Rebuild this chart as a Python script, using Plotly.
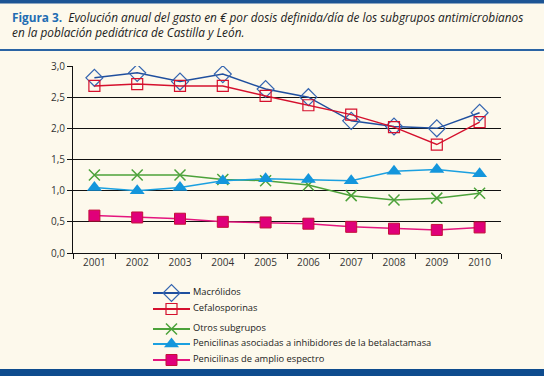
import plotly.graph_objects as go

years = ["2001", "2002", "2003", "2004", "2005", "2006", "2007", "2008", "2009", "2010"]
macrolidos = [2.81, 2.89, 2.75, 2.87, 2.63, 2.50, 2.12, 2.03, 2.00, 2.25]
cefalosporinas = [2.68, 2.71, 2.68, 2.68, 2.52, 2.37, 2.22, 2.02, 1.74, 2.10]
otros = [1.25, 1.25, 1.25, 1.18, 1.16, 1.09, 0.92, 0.85, 0.88, 0.96]
pen_asoc = [1.05, 1.00, 1.05, 1.16, 1.19, 1.18, 1.16, 1.31, 1.34, 1.27]
pen_amplio = [0.60, 0.57, 0.55, 0.50, 0.49, 0.47, 0.42, 0.39, 0.37, 0.41]
names = ["Macrólidos", "Cefalosporinas", "Otros subgrupos",
         "Penicilinas asociadas a inhibidores de la betalactamasa",
         "Penicilinas de amplio espectro"]
y_ticks = [0, 0.5, 1.0, 1.5, 2.0, 2.5, 3.0]

styles = [
    ("#1f4f9e", dict(symbol="diamond-open", size=13, color="#3565b0", line=dict(width=1.2))),
    ("#d5102d", dict(symbol="square-open", size=11, color="#d5102d", line=dict(width=1.2))),
    ("#4ca23a", dict(symbol="x-thin-open", size=11, color="#4ca23a", line=dict(width=1.5, color="#4ca23a"))),
    ("#1ba0e0", dict(symbol="triangle-up", size=13, color="#1496dc", line=dict(width=0))),
    ("#e4157e", dict(symbol="square", size=11, color="#e0007a", line=dict(width=1, color="#c4103a"))),
]
values = [macrolidos, cefalosporinas, otros, pen_asoc, pen_amplio]

# Layout in pixels
W, H = 544, 376
L, R, T, B = 73, 43, 66, 10          # plotting region margins
AREA_H = H - T - B                    # 300
MAIN_BOTTOM = 253                     # pixel y of main x axis
main_dom = [(H - B - MAIN_BOTTOM) / AREA_H, 1.0]
leg_top_px, leg_bot_px = 282, H - B
leg_dom = [0.0, (H - B - leg_top_px) / AREA_H]
leg_rows = [293, 309, 329, 344, 360]  # legend row centres (px)
leg_x0, leg_x1, leg_txt = 153, 190, 193

fig = go.Figure()
for name, vals, (col, mk) in zip(names, values, styles):
    fig.add_trace(go.Scatter(
        x=years, y=vals, name=name, mode="lines+markers",
        line=dict(color=col, width=1.5), marker=mk, showlegend=False,
    ))

# custom legend drawn on an auxiliary pixel-scaled axis pair
for name, row, (col, mk) in zip(names, leg_rows, styles):
    fig.add_trace(go.Scatter(
        x=[leg_x0, leg_x1], y=[row, row], mode="lines", line=dict(color=col, width=2),
        xaxis="x2", yaxis="y2", showlegend=False, hoverinfo="skip",
    ))
    fig.add_trace(go.Scatter(
        x=[(leg_x0 + leg_x1) / 2], y=[row], mode="markers", marker=mk,
        xaxis="x2", yaxis="y2", showlegend=False, hoverinfo="skip",
    ))
    fig.add_trace(go.Scatter(
        x=[leg_txt], y=[row], mode="text", text=[name], textposition="middle right",
        textfont=dict(size=9.3, color="#222222"),
        xaxis="x2", yaxis="y2", showlegend=False, hoverinfo="skip",
    ))

def px_x(x):
    return (x - L) / (W - L - R)
def px_y(y):
    return (H - B - y) / AREA_H

fig.update_layout(
    width=W, height=H,
    paper_bgcolor="#fdf9ec", plot_bgcolor="#fdf9ec",
    margin=dict(l=L, r=R, t=T, b=B, autoexpand=False),
    separators=",.",
    font=dict(family="Open Sans, Noto Sans, sans-serif", size=10, color="#333333"),
    showlegend=False,
    xaxis=dict(
        type="category", range=[-0.5, 9.5], showgrid=False, anchor="y",
        showline=True, linecolor="#111111", linewidth=1,
        ticks="outside", tickson="boundaries", ticklen=5, tickcolor="#111111",
        tickfont=dict(size=10, color="#333333"), fixedrange=True,
    ),
    yaxis=dict(
        domain=main_dom, range=[0, 3.0], tickvals=y_ticks, tickformat=".1f",
        showgrid=True, gridcolor="#111111", gridwidth=1,
        showline=True, linecolor="#111111", linewidth=1,
        ticks="outside", ticklen=5, tickcolor="#111111", zeroline=False,
        tickfont=dict(size=10, color="#333333"), fixedrange=True,
    ),
    xaxis2=dict(range=[L, W - R], visible=False, anchor="y2", fixedrange=True),
    yaxis2=dict(domain=leg_dom, range=[leg_bot_px, leg_top_px], visible=False,
                anchor="x2", fixedrange=True),
    shapes=[
        dict(type="rect", xref="paper", yref="paper", x0=px_x(0), x1=px_x(W),
             y0=px_y(0), y1=px_y(3.5), line=dict(width=0), fillcolor="#1d5595", layer="above"),
        dict(type="line", xref="paper", yref="paper", x0=px_x(0), x1=px_x(W),
             y0=px_y(50), y1=px_y(50), line=dict(width=2, color="#2a64a4")),
        dict(type="rect", xref="paper", yref="paper", x0=px_x(0), x1=px_x(W),
             y0=px_y(376), y1=px_y(369), line=dict(width=0), fillcolor="#0e4c8e", layer="above"),
    ],
    annotations=[
        dict(xref="paper", yref="paper", x=px_x(10), y=px_y(7),
             xanchor="left", yanchor="top", align="left", showarrow=False,
             font=dict(family="Open Sans, sans-serif", size=11.8, color="#222222"),
             text="<b><span style='color:#1f6db3'>Figura 3.</span></b>  <i>Evolución anual del gasto en € por dosis definida/día de los subgrupos antimicrobianos</i><br><i>en la población pediátrica de Castilla y León.</i>"),
    ],
)

fig.write_html("out.html", config={"displayModeBar": False},
               post_script="document.body.style.margin='0';document.body.style.background='#fdf9ec';")
